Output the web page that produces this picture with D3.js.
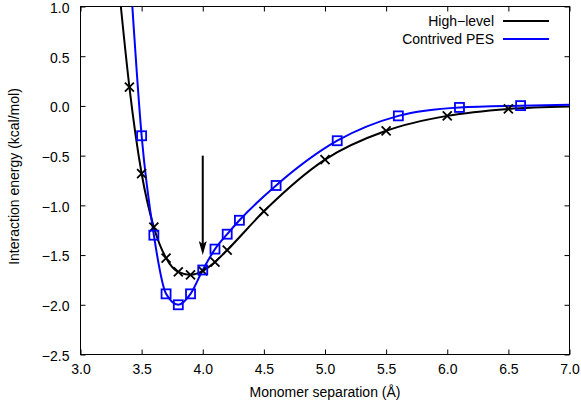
<!DOCTYPE html>
<html>
<head>
<meta charset="utf-8">
<script src="https://cdn.jsdelivr.net/npm/d3@7"></script>
<style>
  body { margin: 0; background: #fff; }
  text { font-family: "Liberation Sans", Arial, sans-serif; font-size: 14px; fill: #000; }
</style>
</head>
<body>
<svg id="chart" width="581" height="406"></svg>
<script>
// High-level reference points (crosses)
var highX = [3.4, 3.5, 3.6, 3.7, 3.8, 3.9, 4.0, 4.1, 4.2, 4.5, 5.0, 5.5, 6.0, 6.5];
var highY = [0.19, -0.68, -1.22, -1.53, -1.67, -1.70, -1.66, -1.57, -1.45, -1.06, -0.54, -0.25, -0.10, -0.03];

// Contrived PES points (squares)
var pesX = [3.5, 3.6, 3.7, 3.8, 3.9, 4.0, 4.1, 4.2, 4.3, 4.6, 5.1, 5.6, 6.1, 6.6];
var pesY = [-0.30, -1.30, -1.89, -2.00, -1.89, -1.65, -1.44, -1.29, -1.15, -0.80, -0.35, -0.10, -0.015, 0.003];

// smooth curves (same points + curve ends)
var highLineX = [3.33, 3.4, 3.5, 3.6, 3.7, 3.8, 3.9, 4.0, 4.1, 4.2, 4.5, 5.0, 5.5, 6.0, 6.5, 7.0];
var highLineY = [1.0, 0.19, -0.68, -1.22, -1.53, -1.67, -1.70, -1.66, -1.57, -1.45, -1.06, -0.54, -0.25, -0.10, -0.03, -0.005];
var pesLineX = [3.424, 3.5, 3.6, 3.7, 3.8, 3.9, 4.0, 4.1, 4.2, 4.3, 4.6, 5.1, 5.6, 6.1, 6.6, 7.0];
var pesLineY = [1.0, -0.30, -1.30, -1.89, -2.00, -1.89, -1.65, -1.44, -1.29, -1.15, -0.80, -0.35, -0.10, -0.015, 0.003, 0.012];

var xTicks = [3.0, 3.5, 4.0, 4.5, 5.0, 5.5, 6.0, 6.5, 7.0];
var yTicks = [1.0, 0.5, 0.0, -0.5, -1.0, -1.5, -2.0, -2.5];

var legendNames = ['High\u2212level', 'Contrived PES'];
var colors = ['#000000', '#0000ff'];

var arrowX = [4.0, 4.0];
var arrowY = [-0.5, -1.5];

var pLeft = 80.5, pRight = 569.5, pTop = 6.5, pBottom = 354.5;

var svg = d3.select('#chart');

var x = d3.scaleLinear().domain([3.0, 7.0]).range([pLeft, pRight]);
var y = d3.scaleLinear().domain([-2.5, 1.0]).range([pBottom, pTop]);

var fmt = function(d) { return d3.format('.1f')(d).replace('-', '\u2212'); };

// axes, gnuplot style: inward ticks, mirrored
svg.append('g')
    .attr('transform', 'translate(0,' + pBottom + ')')
    .call(d3.axisBottom(x).tickValues(xTicks).tickSizeInner(-5).tickSizeOuter(0).tickPadding(10).tickFormat(fmt))
    .call(function(g) { g.select('.domain').remove(); });

svg.append('g')
    .attr('transform', 'translate(' + pLeft + ',0)')
    .call(d3.axisLeft(y).tickValues(yTicks).tickSizeInner(-5).tickSizeOuter(0).tickPadding(11).tickFormat(fmt))
    .call(function(g) { g.select('.domain').remove(); })
    .call(function(g) { g.selectAll('.tick text').attr('dy', '0.42em'); });

svg.append('g')
    .attr('transform', 'translate(0,' + pTop + ')')
    .call(d3.axisTop(x).tickValues(xTicks).tickSizeInner(-5).tickSizeOuter(0).tickFormat(''))
    .call(function(g) { g.select('.domain').remove(); });

svg.append('g')
    .attr('transform', 'translate(' + pRight + ',0)')
    .call(d3.axisRight(y).tickValues(yTicks).tickSizeInner(-5).tickSizeOuter(0).tickFormat(''))
    .call(function(g) { g.select('.domain').remove(); });

svg.selectAll('.tick line').attr('stroke', '#000');
svg.selectAll('.tick text')
    .style('font-family', '"Liberation Sans", Arial, sans-serif')
    .style('font-size', '14px')
    .attr('fill', '#000');

svg.append('rect')
    .attr('x', pLeft).attr('y', pTop)
    .attr('width', pRight - pLeft).attr('height', pBottom - pTop)
    .attr('fill', 'none').attr('stroke', '#000').attr('stroke-width', 1);

// axis titles
svg.append('text')
    .attr('x', (pLeft + pRight) / 2).attr('y', 397)
    .attr('text-anchor', 'middle')
    .text('Monomer separation (\u00c5)');

svg.append('text')
    .attr('transform', 'translate(19,' + ((pTop + pBottom) / 2 - 4) + ') rotate(-90)')
    .attr('text-anchor', 'middle')
    .text('Interaction energy (kcal/mol)');

// curves
var line = d3.line()
    .x(function(d) { return x(d[0]); })
    .y(function(d) { return y(d[1]); })
    .curve(d3.curveMonotoneX);

var plot = svg.append('g');

var highLine = d3.zip(highLineX, highLineY);
var pesLine = d3.zip(pesLineX, pesLineY);

plot.append('path').datum(highLine)
    .attr('d', line).attr('fill', 'none')
    .attr('stroke', colors[0]).attr('stroke-width', 2);

plot.append('path').datum(pesLine)
    .attr('d', line).attr('fill', 'none')
    .attr('stroke', colors[1]).attr('stroke-width', 2);

// crosses
var c = 4.5;
plot.selectAll('.cross').data(d3.zip(highX, highY)).enter()
    .append('path')
    .attr('class', 'cross')
    .attr('d', function(d) {
        var px = x(d[0]), py = y(d[1]);
        return 'M' + (px - c) + ',' + (py - c) + 'L' + (px + c) + ',' + (py + c) +
               'M' + (px - c) + ',' + (py + c) + 'L' + (px + c) + ',' + (py - c);
    })
    .attr('stroke', colors[0]).attr('stroke-width', 1.8).attr('fill', 'none');

// squares
var s = 4.5;
plot.selectAll('.sq').data(d3.zip(pesX, pesY)).enter()
    .append('rect')
    .attr('class', 'sq')
    .attr('x', function(d) { return x(d[0]) - s; })
    .attr('y', function(d) { return y(d[1]) - s; })
    .attr('width', 2 * s).attr('height', 2 * s)
    .attr('fill', 'none')
    .attr('stroke', colors[1]).attr('stroke-width', 1.8);

// arrow
var ax = x(arrowX[0]), ay0 = y(arrowY[0]), ay1 = y(arrowY[1]);
svg.append('line')
    .attr('x1', ax).attr('y1', ay0)
    .attr('x2', ax).attr('y2', ay1 - 8)
    .attr('stroke', '#000').attr('stroke-width', 2);
svg.append('path')
    .attr('d', 'M' + ax + ',' + ay1 + 'L' + (ax - 4) + ',' + (ay1 - 14) +
               'L' + ax + ',' + (ay1 - 11) + 'L' + (ax + 4) + ',' + (ay1 - 14) + 'Z')
    .attr('fill', '#000');

// legend
var legend = svg.append('g');
legendNames.forEach(function(name, i) {
    var ly = 21 + i * 18;
    legend.append('text')
        .attr('x', 494).attr('y', ly + 5)
        .attr('text-anchor', 'end')
        .text(name);
    legend.append('line')
        .attr('x1', 503).attr('x2', 549)
        .attr('y1', ly).attr('y2', ly)
        .attr('stroke', colors[i]).attr('stroke-width', 2);
});
</script>
</body>
</html>
